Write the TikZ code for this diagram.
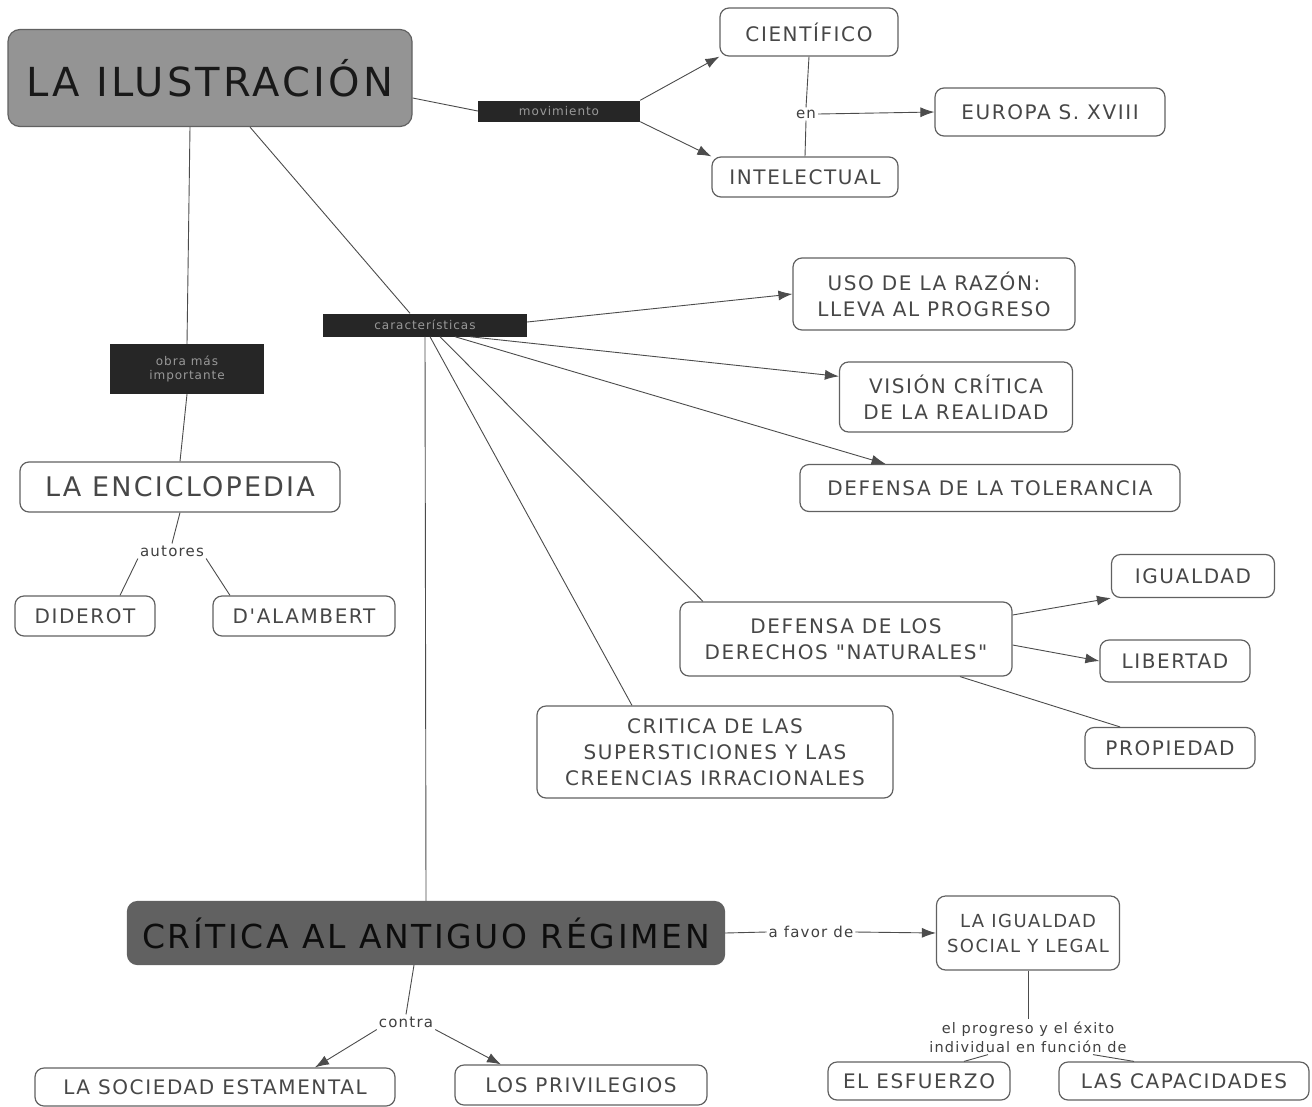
\documentclass[tikz,border=0pt]{standalone}
\usepackage{fontspec}
\setmainfont{DejaVu Sans}
\newfontfamily\mapfont{DejaVu Sans}[LetterSpace=8]
\usetikzlibrary{arrows.meta}
\tikzset{
 box/.style={draw=black!62, line width=1.2pt, rounded corners=9pt, fill=white, text=black!72,
   font=\mapfont\fontsize{20}{26}\selectfont, align=center, inner sep=2pt},
 darklab/.style={fill=black!85, text=black!40, font=\mapfont\fontsize{12}{14}\selectfont, inner sep=2pt, align=center},
 lab/.style={text=black!75, font=\mapfont\fontsize{15}{19}\selectfont, align=center, inner sep=2pt},
 conn/.style={draw=black!70, line width=0.9pt},
 arr/.style={conn, -{Latex[length=14pt,width=10pt]}},
}
\begin{document}
\begin{tikzpicture}[x=1pt,y=-1pt]
\fill[white] (0,0) rectangle (1312,1106);
\useasboundingbox (0,0) rectangle (1312,1106);

\node[box, fill=black!42, minimum width=404, minimum height=97, rounded corners=12pt,
  font=\mapfont\fontsize{40}{42}\selectfont, text=black!90] (ilus) at (210,78) {LA ILUSTRACIÓN};
\node[darklab, minimum width=162, minimum height=21] (mov) at (559,111) {movimiento};
\node[box, minimum width=178, minimum height=48] (cient) at (809,32) {CIENTÍFICO};
\node[box, minimum width=186, minimum height=40] (intel) at (805,177) {INTELECTUAL};
\node[lab] (en) at (806,114) {en};
\node[box, minimum width=230, minimum height=48] (euro) at (1050,112) {EUROPA S. XVIII};
\node[darklab, minimum width=204, minimum height=23] (car) at (425,325) {características};
\node[darklab, minimum width=154, minimum height=50] (obra) at (187,369) {obra más\\importante};
\node[box, minimum width=320, minimum height=50, font=\mapfont\fontsize{27}{30}\selectfont] (enc) at (180,487) {LA ENCICLOPEDIA};
\node[lab] (aut) at (172,551) {autores};
\node[box, minimum width=140, minimum height=40] (dide) at (85,616) {DIDEROT};
\node[box, minimum width=182, minimum height=40] (dal) at (304,616) {D'ALAMBERT};
\node[box, minimum width=282, minimum height=72] (uso) at (934,294) {USO DE LA RAZÓN:\\LLEVA AL PROGRESO};
\node[box, minimum width=233, minimum height=70] (vis) at (956,397) {VISIÓN CRÍTICA\\DE LA REALIDAD};
\node[box, minimum width=380, minimum height=47] (tol) at (990,488) {DEFENSA DE LA TOLERANCIA};
\node[box, minimum width=332, minimum height=74] (der) at (846,639) {DEFENSA DE LOS\\DERECHOS "NATURALES"};
\node[box, minimum width=163, minimum height=43] (igu) at (1193,576) {IGUALDAD};
\node[box, minimum width=150, minimum height=42] (lib) at (1175,661) {LIBERTAD};
\node[box, minimum width=170, minimum height=41] (prop) at (1170,748) {PROPIEDAD};
\node[box, minimum width=356, minimum height=92] (sup) at (715,752) {CRITICA DE LAS\\SUPERSTICIONES Y LAS\\CREENCIAS IRRACIONALES};
\node[box, fill=black!62, minimum width=597, minimum height=63, rounded corners=10pt,
  font=\mapfont\fontsize{33}{35}\selectfont, text=black!95] (crit) at (426,933) {CRÍTICA AL ANTIGUO RÉGIMEN};
\node[lab] (fav) at (811,932) {a favor de};
\node[box, minimum width=183, minimum height=74, font=\mapfont\fontsize{18}{25}\selectfont] (igs) at (1028,933) {LA IGUALDAD\\SOCIAL Y LEGAL};
\node[lab, font=\mapfont\fontsize{14.5}{19}\selectfont] (prog) at (1028,1037) {el progreso y el éxito\\individual en función de};
\node[box, minimum width=182, minimum height=38] (esf) at (919,1081) {EL ESFUERZO};
\node[box, minimum width=250, minimum height=38] (cap) at (1184,1081) {LAS CAPACIDADES};
\node[lab] (con) at (406,1022) {contra};
\node[box, minimum width=360, minimum height=38] (soc) at (215,1087) {LA SOCIEDAD ESTAMENTAL};
\node[box, minimum width=252, minimum height=40] (priv) at (581,1085) {LOS PRIVILEGIOS};

\draw[conn] ([yshift=-20pt]ilus.east) -- (mov.west);
\draw[arr] (mov.north east) -- (cient.south west);
\draw[arr] (mov.south east) -- (intel.north west);
\draw[conn] (cient.south) -- (en.north);
\draw[conn] (en.south) -- (intel.north);
\draw[arr] (en.east) -- (euro.west);
\draw[conn] ([xshift=40pt]ilus.south) -- ([xshift=-15pt]car.north);
\draw[conn] ([xshift=-20pt]ilus.south) -- (obra.north);
\draw[conn] (obra.south) -- (enc.north);
\draw[conn] (enc.south) -- (aut.north);
\draw[conn] (aut.south west) -- ([xshift=35pt]dide.north);
\draw[conn] (aut.south east) -- ([xshift=-74pt]dal.north);
\draw[arr] ([yshift=3pt]car.east) -- (uso.west);
\draw[arr] ([xshift=45pt]car.south) -- (vis.170);
\draw[arr] ([xshift=30pt]car.south) -- (tol.167);
\draw[conn] ([xshift=15pt]car.south) -- ([xshift=-143pt]der.north);
\draw[conn] ([xshift=5pt]car.south) -- ([xshift=-83pt]sup.north);
\draw[conn] (car.south) -- (crit.north);
\draw[arr] ([yshift=24pt]der.east) -- (igu.south west);
\draw[arr] ([yshift=-6pt]der.east) -- (lib.west);
\draw[conn] ([xshift=114pt]der.south) -- ([xshift=-50pt]prop.north);
\draw[conn] (crit.east) -- (fav.west);
\draw[arr] (fav.east) -- (igs.west);
\draw[conn] (igs.south) -- (prog.north);
\draw[conn] ([xshift=-40pt]prog.south) -- ([xshift=45pt]esf.north);
\draw[conn] ([xshift=65pt]prog.south) -- ([xshift=-50pt]cap.north);
\draw[conn] ([xshift=-12pt]crit.south) -- (con.north);
\draw[arr] (con.south west) -- ([xshift=100pt]soc.north);
\draw[arr] (con.south east) -- ([xshift=-80pt]priv.north);
\end{tikzpicture}
\end{document}
